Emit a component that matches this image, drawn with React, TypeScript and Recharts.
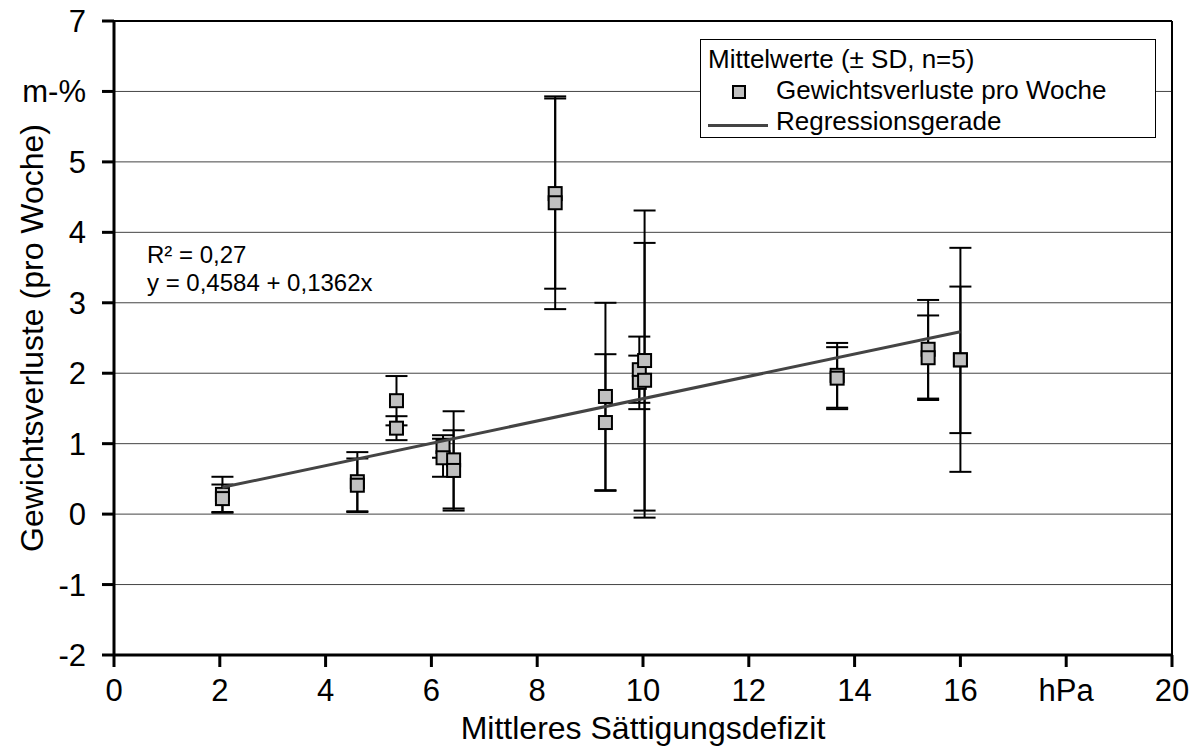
import React from 'react';
import {
  ScatterChart, Scatter, XAxis, YAxis, CartesianGrid, ErrorBar, ReferenceLine,
} from 'recharts';

// Mittleres Sättigungsdefizit (hPa)
const defizit = [2.05, 2.05, 4.6, 4.6, 5.34, 5.34, 6.22, 6.22, 6.42, 6.42, 8.34, 8.34,
  9.29, 9.29, 9.93, 9.93, 10.03, 10.03, 13.67, 13.67, 15.39, 15.39, 16.0, 16.0];
// Gewichtsverluste pro Woche (m-%)
const verluste = [0.28, 0.22, 0.46, 0.41, 1.61, 1.22, 0.96, 0.8, 0.77, 0.62, 4.55, 4.42,
  1.67, 1.3, 2.05, 1.87, 2.18, 1.9, 1.97, 1.93, 2.34, 2.22, 2.19, 2.19];
// Standardabweichung
const sd = [0.25, 0.2, 0.42, 0.38, 0.35, 0.17, 0.16, 0.27, 0.69, 0.57, 1.35, 1.51,
  1.33, 0.97, 0.47, 0.38, 2.13, 1.95, 0.46, 0.44, 0.7, 0.6, 1.59, 1.04];

const regX = [2.05, 16.0];
const regY = [0.38, 2.59];

const xTicks = [0, 2, 4, 6, 8, 10, 12, 14, 16, 18, 20];
const yTicks = [-2, -1, 0, 1, 2, 3, 4, 5, 6, 7];

const points = defizit.map((x, i) => ({ x, y: verluste[i], sd: sd[i] }));
const regData = regX.map((x, i) => ({ x, y: regY[i] }));

const FONT = 'Arial, "Liberation Sans", sans-serif';

const Square = (p: any) => (
  <rect x={p.cx - 6.5} y={p.cy - 6.5} width={13} height={13} fill="#c0c0c0" stroke="#000" strokeWidth={2} />
);

const App: React.FC = () => {
  return (
    <div style={{ position: 'absolute', left: 0, top: 0, width: 1197, height: 749, fontFamily: FONT, background: '#fff' }}>
      <ScatterChart width={1197} height={749} margin={{ top: 21, right: 25, bottom: 0, left: 0 }}>
        <CartesianGrid horizontal vertical={false} stroke="#444" strokeWidth={1} />
        <XAxis
          type="number"
          dataKey="x"
          domain={[0, 20]}
          ticks={xTicks}
          tickFormatter={(v: number) => (v === 18 ? 'hPa' : String(v))}
          height={94}
          tickSize={12}
          tickMargin={12}
          axisLine={{ stroke: '#000', strokeWidth: 3 }}
          tickLine={{ stroke: '#000', strokeWidth: 3 }}
          tick={{ fill: '#000', fontSize: 31, fontFamily: FONT }}
          label={{ value: 'Mittleres Sättigungsdefizit', position: 'insideBottom', offset: 10, fill: '#000', fontSize: 32, fontFamily: FONT }}
        />
        <YAxis
          type="number"
          dataKey="y"
          domain={[-2, 7]}
          ticks={yTicks}
          tickFormatter={(v: number) => (v === 6 ? 'm-%' : String(v))}
          width={114}
          tickSize={12}
          tickMargin={16}
          axisLine={{ stroke: '#000', strokeWidth: 3 }}
          tickLine={{ stroke: '#000', strokeWidth: 3 }}
          tick={{ fill: '#000', fontSize: 31, fontFamily: FONT }}
          label={{ value: 'Gewichtsverluste (pro Woche)', angle: -90, position: 'insideLeft', offset: 32, style: { textAnchor: 'middle' }, fill: '#000', fontSize: 32, fontFamily: FONT }}
        />
        <ReferenceLine y={7} stroke="#000" strokeWidth={2} />
        <ReferenceLine x={20} stroke="#000" strokeWidth={2} />
        <Scatter data={points} shape={Square} isAnimationActive={false} />
        <Scatter data={points} shape={() => <g />} isAnimationActive={false}>
          <ErrorBar dataKey="sd" direction="y" width={11} stroke="#000" strokeWidth={2} />
        </Scatter>
        <Scatter data={regData} shape={() => <g />} line={{ stroke: '#444', strokeWidth: 3 }} isAnimationActive={false} />
      </ScatterChart>

      <div style={{ position: 'absolute', left: 147, top: 241, fontSize: 24, lineHeight: '28px', color: '#000' }}>
        <div>R² = 0,27</div>
        <div>y = 0,4584 + 0,1362x</div>
      </div>

      <div style={{ position: 'absolute', left: 700, top: 39, width: 454, height: 97, border: '1px solid #000', background: '#fff', color: '#000', fontSize: 26 }}>
        <div style={{ position: 'absolute', left: 7, top: 4, whiteSpace: 'nowrap' }}>Mittelwerte (± SD, n=5)</div>
        <div style={{ position: 'absolute', left: 31, top: 45, width: 10, height: 10, background: '#c0c0c0', border: '2px solid #000' }} />
        <div style={{ position: 'absolute', left: 75, top: 35, whiteSpace: 'nowrap' }}>Gewichtsverluste pro Woche</div>
        <div style={{ position: 'absolute', left: 7, top: 84, width: 60, height: 3, background: '#444' }} />
        <div style={{ position: 'absolute', left: 75, top: 66, whiteSpace: 'nowrap' }}>Regressionsgerade</div>
      </div>
    </div>
  );
};

export default App;
